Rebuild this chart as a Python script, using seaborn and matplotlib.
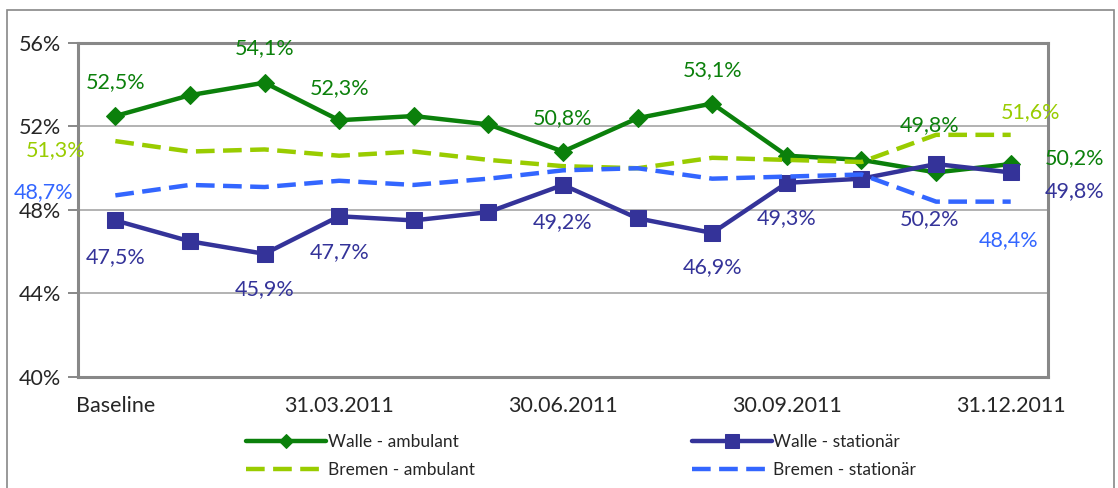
import numpy as np
import pandas as pd
import seaborn as sns
import matplotlib.pyplot as plt
from matplotlib.patches import Rectangle

# categories on the x axis (13 survey points, labelled every third)
n_points = 13
tick_labels = ["Baseline", "31.03.2011", "30.06.2011", "30.09.2011", "31.12.2011"]
y_ticks = [40, 44, 48, 52, 56]

# series values in percent
walle_ambulant = [52.5, 53.5, 54.1, 52.3, 52.5, 52.1, 50.8, 52.4, 53.1, 50.6, 50.4, 49.8, 50.2]
walle_stationaer = [47.5, 46.5, 45.9, 47.7, 47.5, 47.9, 49.2, 47.6, 46.9, 49.3, 49.5, 50.2, 49.8]
bremen_ambulant = [51.3, 50.8, 50.9, 50.6, 50.8, 50.4, 50.1, 50.0, 50.5, 50.4, 50.3, 51.6, 51.6]
bremen_stationaer = [48.7, 49.2, 49.1, 49.4, 49.2, 49.5, 49.9, 50.0, 49.5, 49.6, 49.7, 48.4, 48.4]

series_names = ["Walle - ambulant", "Bremen - ambulant", "Walle - stationär", "Bremen - stationär"]

sns.set_style("white")
plt.rcParams['font.family'] = ['Lato', 'DejaVu Sans']

green = "#0b800b"
navy = "#343399"
lime = "#99cc00"
blue = "#3366ff"

fig = plt.figure(figsize=(11.18, 4.88), dpi=100)
ax = fig.add_axes([0.0698, 0.2275, 0.8676, 0.6844])

# outer chart frame
fig.patches.append(Rectangle((0.006, -0.01), 0.99, 0.99, transform=fig.transFigure,
                             fill=False, edgecolor="#888888", linewidth=1.2))

x = np.arange(n_points)
df = pd.DataFrame({
    "x": np.tile(x, 4),
    "value": walle_ambulant + bremen_ambulant + walle_stationaer + bremen_stationaer,
    "series": np.repeat(series_names, n_points),
})

dash = (0, (4.2, 1.9))
styles = {
    "Walle - ambulant": dict(color=green, marker="D", markersize=9.5, linewidth=3.2, linestyle="-"),
    "Bremen - ambulant": dict(color=lime, marker=None, linewidth=3.2, linestyle=dash),
    "Walle - stationär": dict(color=navy, marker="s", markersize=12, linewidth=3.2, linestyle="-"),
    "Bremen - stationär": dict(color=blue, marker=None, linewidth=3.2, linestyle=dash),
}

for name in series_names:
    sub = df[df["series"] == name]
    st = styles[name]
    sns.lineplot(data=sub, x="x", y="value", ax=ax, label=name, color=st["color"],
                 marker=st["marker"], markersize=st.get("markersize", 0),
                 linewidth=st["linewidth"], linestyle=st["linestyle"],
                 markeredgecolor=st["color"], legend=False)

# data labels: (series values, colour, [(index, dx px, dy px, ha)])
label_specs = [
    (walle_ambulant, green, [(0, 0, 34, "center"), (2, 0, 35, "center"), (3, 0, 32, "center"),
                             (6, 0, 33, "center"), (8, 0, 33, "center"), (11, -7, 47, "center"),
                             (12, 34, 6, "left")]),
    (walle_stationaer, navy, [(0, 0, -37, "center"), (2, 0, -35, "center"), (3, 0, -36, "center"),
                              (6, 0, -37, "center"), (8, 0, -34, "center"), (9, 0, -35, "center"),
                              (11, -7, -55, "center"), (12, 34, -19, "left")]),
    (bremen_ambulant, lime, [(0, -60, -9, "center"), (12, 20, 23, "center")]),
    (bremen_stationaer, blue, [(0, -72, 3, "center"), (12, -2, -38, "center")]),
]
for values, col, items in label_specs:
    for i, dx, dy, ha in items:
        txt = f"{values[i]:.1f}%".replace(".", ",")
        ax.annotate(txt, (x[i], values[i]), xytext=(dx * 0.72, dy * 0.72),
                    textcoords="offset points", ha=ha, va="center",
                    color=col, fontsize=15.5, annotation_clip=False)

ax.set_xlim(-0.5, n_points - 0.5)
ax.set_ylim(40, 56)
ax.set_yticks(y_ticks)
ax.set_yticklabels([f"{v}%" for v in y_ticks], fontsize=15.5)
ax.yaxis.grid(True, color="#a6a6a6", linewidth=1.2)
ax.set_axisbelow(True)

# tick marks between groups, labels on every third category
ax.set_xticks(np.arange(-0.5, n_points, 3))
ax.set_xticklabels([])
ax.set_xticks(x[::3], minor=True)
ax.set_xticklabels(tick_labels, minor=True, fontsize=15.5)
ax.tick_params(axis="x", which="major", length=7, width=1.4, color="#888888", direction="out")
ax.tick_params(axis="x", which="minor", length=0, pad=14)
ax.tick_params(axis="y", length=7, width=1.4, color="#888888", direction="out", pad=5, left=True)

ax.set_xlabel("")
ax.set_ylabel("")
for sp in ax.spines.values():
    sp.set_color("#888888")
    sp.set_linewidth(2.2)

handles, labels = ax.get_legend_handles_labels()
order = [labels.index(n) for n in series_names]
fig.legend([handles[i] for i in order], [labels[i] for i in order], ncol=2,
           loc="center", bbox_to_anchor=(0.52, 0.066), frameon=False, fontsize=12.5,
           handlelength=4.6, handletextpad=0.1, columnspacing=12.5, labelspacing=0.7,
           markerscale=0.8)

fig.savefig("out.png", dpi=100)
